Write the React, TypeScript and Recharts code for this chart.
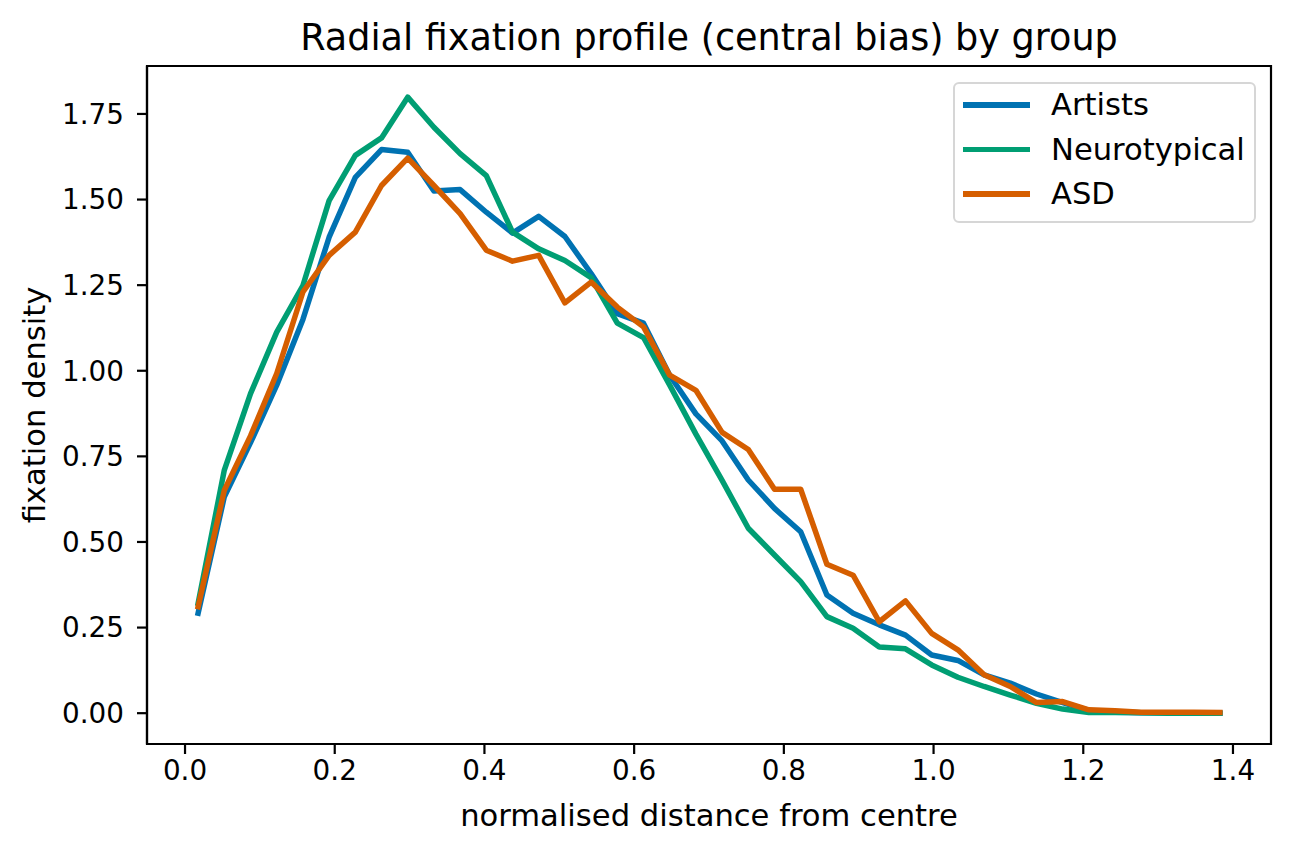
import { LineChart, Line, XAxis, YAxis, ReferenceArea } from "recharts";

// bin centres (normalised distance from centre)
const DIST = [
  0.0175, 0.0525, 0.0875, 0.1225, 0.1575, 0.1925, 0.2275, 0.2625, 0.2975, 0.3325,
  0.3675, 0.4025, 0.4375, 0.4725, 0.5075, 0.5425, 0.5775, 0.6125, 0.6475, 0.6825,
  0.7175, 0.7525, 0.7875, 0.8225, 0.8575, 0.8925, 0.9275, 0.9625, 0.9975, 1.0325,
  1.0675, 1.1025, 1.1375, 1.1725, 1.2075, 1.2425, 1.2775, 1.3125, 1.3475, 1.3825,
];

const ARTISTS = [
  0.292, 0.632, 0.79, 0.958, 1.15, 1.39, 1.565, 1.646, 1.638, 1.525,
  1.529, 1.463, 1.402, 1.451, 1.392, 1.284, 1.167, 1.139, 0.987, 0.874,
  0.795, 0.681, 0.598, 0.53, 0.345, 0.292, 0.258, 0.228, 0.17, 0.154,
  0.112, 0.088, 0.056, 0.031, 0.008, 0.003, 0.001, 0.001, 0.001, 0.0,
];

const NEUROTYPICAL = [
  0.321, 0.71, 0.933, 1.113, 1.249, 1.497, 1.629, 1.68, 1.799, 1.711,
  1.634, 1.57, 1.405, 1.356, 1.322, 1.272, 1.139, 1.097, 0.958, 0.815,
  0.68, 0.54, 0.462, 0.384, 0.282, 0.248, 0.193, 0.188, 0.141, 0.105,
  0.078, 0.053, 0.029, 0.012, 0.002, 0.003, 0.001, 0.0, 0.0, 0.0,
];

const ASD = [
  0.311, 0.651, 0.81, 0.992, 1.23, 1.337, 1.405, 1.541, 1.621, 1.541,
  1.459, 1.352, 1.32, 1.337, 1.198, 1.259, 1.186, 1.128, 0.987, 0.943,
  0.82, 0.77, 0.654, 0.654, 0.435, 0.403, 0.267, 0.328, 0.233, 0.185,
  0.112, 0.078, 0.031, 0.034, 0.01, 0.007, 0.003, 0.003, 0.003, 0.002,
];

const X_TICKS = [0, 0.2, 0.4, 0.6, 0.8, 1.0, 1.2, 1.4];
const Y_TICKS = [0, 0.25, 0.5, 0.75, 1.0, 1.25, 1.5, 1.75];

const SERIES = [
  { key: "artists", name: "Artists", color: "#0072B2" },
  { key: "neurotypical", name: "Neurotypical", color: "#009E73" },
  { key: "asd", name: "ASD", color: "#D55E00" },
];

const X_DOMAIN: [number, number] = [-0.0508, 1.4508];
const Y_DOMAIN: [number, number] = [-0.09, 1.89];

const FONT = "'DejaVu Sans', sans-serif";
const TICK = { fontSize: 27.8, fill: "#000", fontFamily: FONT };

export default function App() {
  const data = DIST.map((d, i) => ({
    dist: d,
    artists: ARTISTS[i],
    neurotypical: NEUROTYPICAL[i],
    asd: ASD[i],
  }));

  return (
    <div style={{ position: "absolute", left: 0, top: 0, width: 1291, height: 853, background: "#fff", fontFamily: FONT }}>
      <LineChart width={1291} height={853} data={data} margin={{ top: 66, right: 20, bottom: 59, left: 47 }}>
        <XAxis
          dataKey="dist"
          type="number"
          domain={X_DOMAIN}
          ticks={X_TICKS}
          allowDataOverflow
          height={50}
          tick={TICK}
          tickSize={10}
          tickMargin={6}
          tickFormatter={(v: number) => v.toFixed(1)}
          axisLine={{ stroke: "#000", strokeWidth: 2.2 }}
          tickLine={{ stroke: "#000", strokeWidth: 2.2 }}
        />
        <YAxis
          type="number"
          domain={Y_DOMAIN}
          ticks={Y_TICKS}
          allowDataOverflow
          width={100}
          tick={TICK}
          tickSize={10}
          tickMargin={13}
          tickFormatter={(v: number) => v.toFixed(2)}
          axisLine={{ stroke: "#000", strokeWidth: 2.2 }}
          tickLine={{ stroke: "#000", strokeWidth: 2.2 }}
        />
        <ReferenceArea
          x1={X_DOMAIN[0]}
          x2={X_DOMAIN[1]}
          y1={Y_DOMAIN[0]}
          y2={Y_DOMAIN[1]}
          fill="none"
          stroke="#000"
          strokeWidth={2.2}
          ifOverflow="visible"
        />
        {SERIES.map((s) => (
          <Line
            key={s.key}
            dataKey={s.key}
            name={s.name}
            stroke={s.color}
            strokeWidth={5.5}
            strokeLinejoin="round"
            strokeLinecap="square"
            dot={false}
            activeDot={false}
            type="linear"
            isAnimationActive={false}
          />
        ))}
      </LineChart>

      <div style={{ position: "absolute", left: 0, width: 1418, top: 13, textAlign: "center", fontSize: 36.6, lineHeight: "50px" }}>
        Radial fixation profile (central bias) by group
      </div>
      <div style={{ position: "absolute", left: 0, width: 1418, top: 796, textAlign: "center", fontSize: 30.6, lineHeight: "40px" }}>
        normalised distance from centre
      </div>
      <div
        style={{
          position: "absolute",
          left: 35,
          top: 405,
          transform: "translate(-50%, -50%) rotate(-90deg)",
          fontSize: 30.6,
          lineHeight: "40px",
          whiteSpace: "nowrap",
        }}
      >
        fixation density
      </div>

      <div
        style={{
          position: "absolute",
          left: 953,
          top: 82,
          width: 303,
          height: 141,
          boxSizing: "border-box",
          border: "2px solid #d6d6d6",
          borderRadius: 6,
          background: "rgba(255,255,255,0.8)",
          paddingLeft: 8,
        }}
      >
        <div style={{ position: "relative", top: -1.5 }}>
          {SERIES.map((s) => (
            <div key={s.key} style={{ display: "flex", alignItems: "center", height: 44.5, fontSize: 30.6 }}>
              <div style={{ width: 67, height: 5.5, background: s.color, marginRight: 21 }} />
              <span>{s.name}</span>
            </div>
          ))}
        </div>
      </div>
    </div>
  );
}
